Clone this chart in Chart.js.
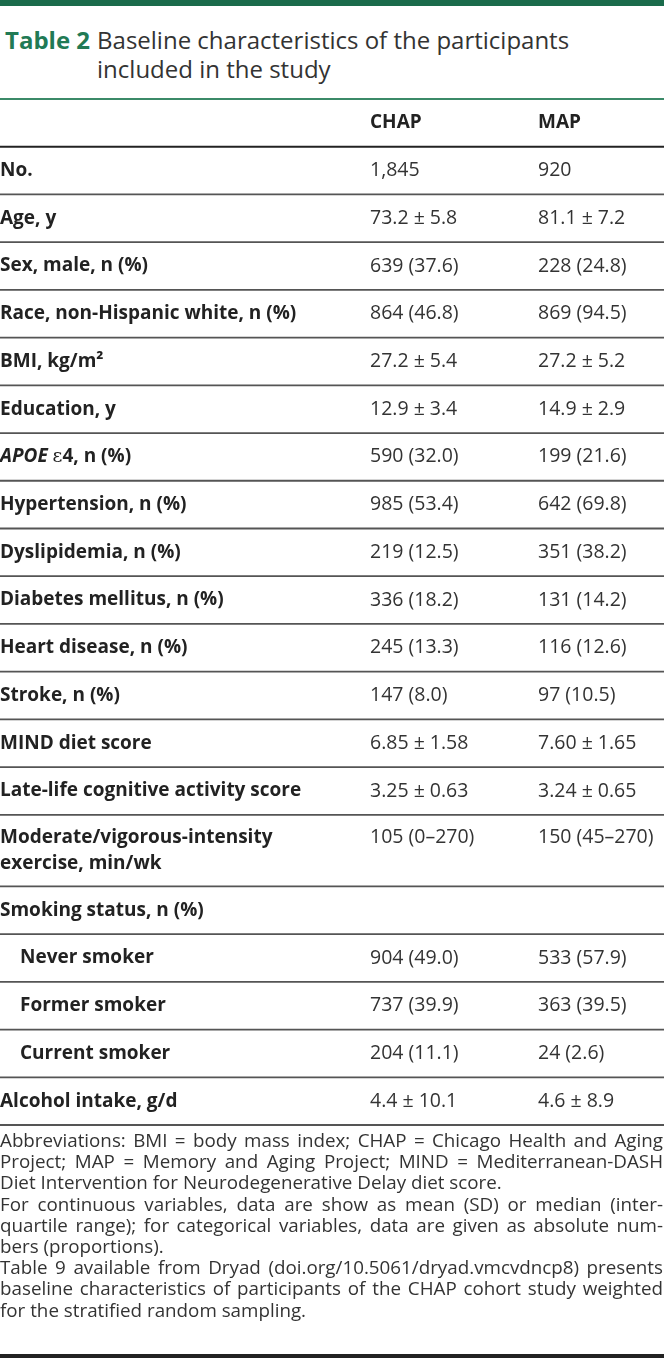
<!DOCTYPE html>
<html lang="en">
<head>
    <meta charset="UTF-8">
    <title>Table 2</title>
    <style>
        html, body { margin: 0; padding: 0; background: #fff; }
        body { width: 664px; height: 1364px; position: relative; overflow: hidden; font-family: "Open Sans", sans-serif; color: #333; }
        .topbar { position: absolute; left: 0; top: 0; width: 664px; height: 6px; background: #1a6b4b; }
        .title { position: absolute; left: 5px; top: 25px; width: 655px; display: flex; font-size: 24px; line-height: 29px; }
        .title .num { color: #217a55; font-weight: bold; margin-right: 7px; white-space: nowrap; }
        .title .txt { color: #333; width: 505px; }
        #table-wrap { position: absolute; left: 0; top: 90px; width: 664px; height: 1041px; }
        .notes { position: absolute; left: 0; top: 1130px; width: 663px; font-size: 18.8px; line-height: 21.2px; color: #333; }
        .notes div { white-space: nowrap; overflow: hidden; }
        .notes .j { text-align: justify; text-align-last: justify; }
        .bottomrule { position: absolute; left: 0; top: 1354px; width: 664px; height: 4px; background: #222; }
    </style>
</head>
<body>
    <div class="topbar"></div>
    <div class="title"><span class="num">Table 2</span><span class="txt">Baseline characteristics of the participants included in the study</span></div>
    <div id="table-wrap"><canvas id="chart" width="664" height="1041"></canvas></div>
    <div class="notes">
        <div class="j">Abbreviations: BMI = body mass index; CHAP = Chicago Health and Aging</div>
        <div class="j">Project; MAP = Memory and Aging Project; MIND = Mediterranean-DASH</div>
        <div>Diet Intervention for Neurodegenerative Delay diet score.</div>
        <div class="j">For continuous variables, data are show as mean (SD) or median (inter-</div>
        <div class="j">quartile range); for categorical variables, data are given as absolute num-</div>
        <div>bers (proportions).</div>
        <div class="j">Table 9 available from Dryad (doi.org/10.5061/dryad.vmcvdncp8) presents</div>
        <div class="j">baseline characteristics of participants of the CHAP cohort study weighted</div>
        <div>for the stratified random sampling.</div>
    </div>
    <div class="bottomrule"></div>
    <script src="https://cdn.jsdelivr.net/npm/chart.js"></script>
    <script>
        // 表格資料
        const columnHeaders = ['', 'CHAP', 'MAP'];
        const rowLabels = [
            'No.', 'Age, y', 'Sex, male, n (%)', 'Race, non-Hispanic white, n (%)', 'BMI, kg/m²',
            'Education, y', 'APOE ε4, n (%)', 'Hypertension, n (%)', 'Dyslipidemia, n (%)',
            'Diabetes mellitus, n (%)', 'Heart disease, n (%)', 'Stroke, n (%)', 'MIND diet score',
            'Late-life cognitive activity score', 'Moderate/vigorous-intensity\nexercise, min/wk',
            'Smoking status, n (%)', 'Never smoker', 'Former smoker', 'Current smoker', 'Alcohol intake, g/d'
        ];
        const chapValues = [
            '1,845', '73.2 ± 5.8', '639 (37.6)', '864 (46.8)', '27.2 ± 5.4',
            '12.9 ± 3.4', '590 (32.0)', '985 (53.4)', '219 (12.5)',
            '336 (18.2)', '245 (13.3)', '147 (8.0)', '6.85 ± 1.58',
            '3.25 ± 0.63', '105 (0–270)',
            '', '904 (49.0)', '737 (39.9)', '204 (11.1)', '4.4 ± 10.1'
        ];
        const mapValues = [
            '920', '81.1 ± 7.2', '228 (24.8)', '869 (94.5)', '27.2 ± 5.2',
            '14.9 ± 2.9', '199 (21.6)', '642 (69.8)', '351 (38.2)',
            '131 (14.2)', '116 (12.6)', '97 (10.5)', '7.60 ± 1.65',
            '3.24 ± 0.65', '150 (45–270)',
            '', '533 (57.9)', '363 (39.5)', '24 (2.6)', '4.6 ± 8.9'
        ];
        const subRows = ['Never smoker', 'Former smoker', 'Current smoker'];

        // 版面設定
        const columnStart = [0, 370, 538];
        const subIndent = 20;
        const lineGap = 0.55;
        const labelFont = 'bold 19px "Open Sans"';
        const valueFont = '19.5px "Open Sans"';

        // 每列高度（以列為單位，多行列較高）
        const rowUnits = rowLabels.map(l => 1 + 0.5 * (l.split('\n').length - 1));
        const bounds = [0, 1];
        rowUnits.forEach(u => bounds.push(bounds[bounds.length - 1] + u));
        const totalUnits = bounds[bounds.length - 1];

        function drawLabel(ctx, text, px, py) {
            ctx.textAlign = 'left';
            if (text.startsWith('APOE')) {
                const parts = [['APOE ', 'italic bold 19px "Open Sans"'], ['ε', '19px "DejaVu Serif"'], [text.slice(6), labelFont]];
                let cx = px;
                parts.forEach(([t, f]) => { ctx.font = f; ctx.fillText(t, cx, py); cx += ctx.measureText(t).width; });
                return;
            }
            ctx.font = labelFont;
            ctx.fillText(text, px, py);
        }

        const tablePlugin = {
            id: 'tableCells',
            afterDraw(chart) {
                const { ctx, scales: { x, y } } = chart;
                ctx.save();
                // 橫線
                bounds.forEach((b, i) => {
                    const py = y.getPixelForValue(b);
                    ctx.strokeStyle = i === 0 ? '#3b8a68' : (i === 1 ? '#222' : '#555');
                    ctx.lineWidth = i <= 1 ? 2 : 1.8;
                    ctx.beginPath();
                    ctx.moveTo(x.getPixelForValue(x.min), py);
                    ctx.lineTo(x.getPixelForValue(x.max), py);
                    ctx.stroke();
                });
                ctx.textBaseline = 'middle';
                // 表頭
                ctx.fillStyle = '#222';
                ctx.font = labelFont;
                columnHeaders.forEach((h, c) => {
                    if (h) ctx.fillText(h, x.getPixelForValue(columnStart[c]), y.getPixelForValue(0.5));
                });
                // 各列
                rowLabels.forEach((label, i) => {
                    const top = bounds[i + 1];
                    const lines = label.split('\n');
                    const center = top + rowUnits[i] / 2;
                    const firstY = center - (lines.length - 1) * lineGap / 2;
                    const indent = subRows.includes(label) ? subIndent : 0;
                    ctx.fillStyle = '#222';
                    lines.forEach((ln, k) => drawLabel(ctx, ln, x.getPixelForValue(columnStart[0] + indent), y.getPixelForValue(firstY + k * lineGap)));
                    ctx.fillStyle = '#333';
                    ctx.font = valueFont;
                    ctx.fillText(chapValues[i], x.getPixelForValue(columnStart[1]), y.getPixelForValue(firstY));
                    ctx.fillText(mapValues[i], x.getPixelForValue(columnStart[2]), y.getPixelForValue(firstY));
                });
                ctx.restore();
            }
        };

        const ctx = document.getElementById('chart').getContext('2d');
        new Chart(ctx, {
            type: 'scatter',
            data: { datasets: [] },
            options: {
                responsive: false,
                animation: false,
                layout: { padding: { top: 9, bottom: 6, left: 0, right: 0 } },
                plugins: { legend: { display: false }, tooltip: { enabled: false } },
                scales: {
                    x: { type: 'linear', min: 0, max: 664, display: false },
                    y: { type: 'linear', min: 0, max: totalUnits, reverse: true, display: false }
                }
            },
            plugins: [tablePlugin]
        });

        // 註解文字太長時縮小字距
        document.querySelectorAll('.notes div').forEach(el => {
            const over = el.scrollWidth - el.clientWidth;
            if (over > 0) {
                const spaces = (el.textContent.match(/ /g) || []).length;
                el.style.wordSpacing = (-(over + 1) / spaces) + 'px';
            }
        });
    </script>
</body>
</html>
